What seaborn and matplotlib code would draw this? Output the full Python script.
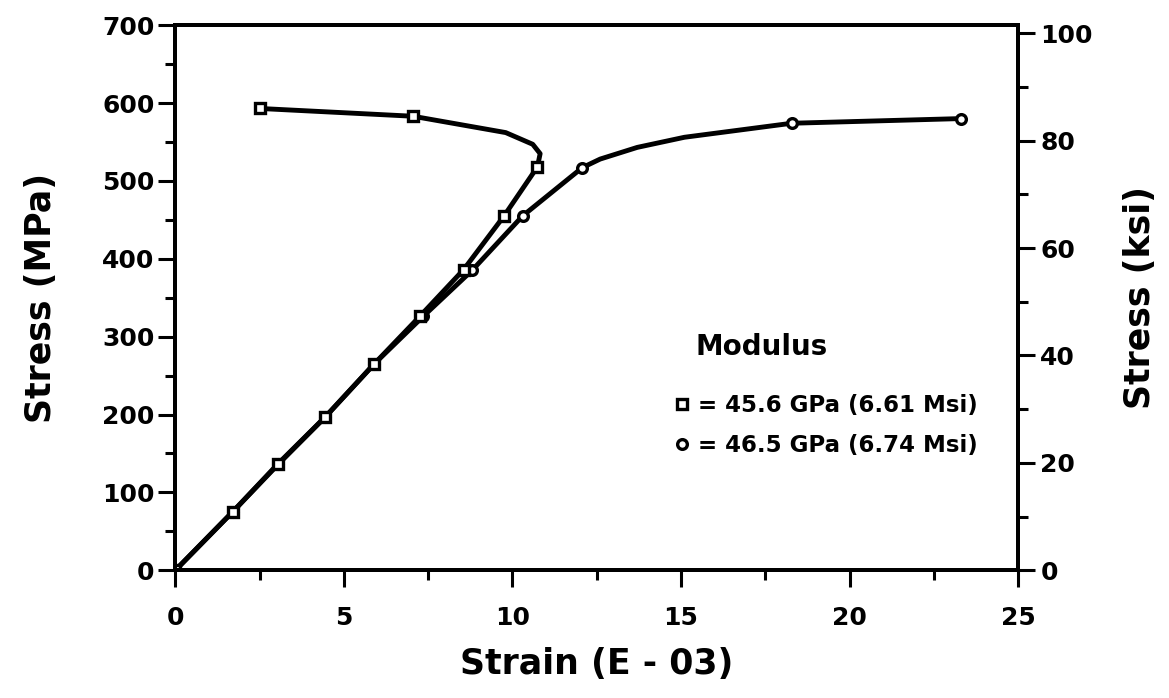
import matplotlib
matplotlib.use("Agg")
import matplotlib.pyplot as plt
import matplotlib.ticker as mticker
from matplotlib.lines import Line2D
import pandas as pd
import seaborn as sns

# strain (E-03) vs stress (MPa)
sq_strain = [0.0, 1.7, 3.05, 4.45, 5.9, 7.25, 8.55, 9.75, 10.74, 10.82, 10.6, 9.8, 7.05, 2.5]
sq_stress = [0, 75, 136, 197, 265, 326, 386, 455, 518, 535, 547, 562, 583, 593]
sq_marked = [True, True, True, True, True, True, True, True, True, False, False, False, True, True]

ci_strain = [0.0, 1.7, 3.05, 4.45, 5.9, 7.35, 8.8, 10.3, 12.07, 12.6, 13.7, 15.1, 18.28, 23.3]
ci_stress = [0, 75, 137, 197, 265, 326, 385, 455, 517, 528, 543, 556, 574, 580]
ci_marked = [True, True, True, True, True, True, True, True, True, False, False, False, True, True]

x_ticks = [0, 5, 10, 15, 20, 25]
y_ticks = [0, 100, 200, 300, 400, 500, 600, 700]
ksi_ticks = [0, 20, 40, 60, 80, 100]
mpa_per_ksi = 6.895

legend_title = "Modulus"
legend_labels = ["= 45.6 GPa (6.61 Msi)", "= 46.5 GPa (6.74 Msi)"]

sq = pd.DataFrame({"strain": sq_strain, "stress": sq_stress, "marked": sq_marked})
ci = pd.DataFrame({"strain": ci_strain, "stress": ci_stress, "marked": ci_marked})

sns.set_style("white")
plt.rcParams["font.family"] = ["DejaVu Sans"]
plt.rcParams["font.weight"] = "bold"
for k in ["text.color", "axes.labelcolor", "xtick.color", "ytick.color", "axes.edgecolor"]:
    plt.rcParams[k] = "black"

fig = plt.figure(figsize=(11.69, 6.98), dpi=100)
ax = fig.add_axes([0.150, 0.183, 0.721, 0.781])

sns.lineplot(data=ci, x="strain", y="stress", sort=False, estimator=None,
             color="black", linewidth=3.5, ax=ax)
sns.lineplot(data=sq, x="strain", y="stress", sort=False, estimator=None,
             color="black", linewidth=3.5, ax=ax)
ax.plot(ci.loc[ci.marked, "strain"], ci.loc[ci.marked, "stress"], "o", ls="none",
        ms=7, mfc="white", mec="black", mew=2.4)
ax.plot(sq.loc[sq.marked, "strain"], sq.loc[sq.marked, "stress"], "s", ls="none",
        ms=7, mfc="white", mec="black", mew=2.4)

ax.set_xlim(0, 25)
ax.set_ylim(0, 700)
ax.set_xticks(x_ticks)
ax.set_yticks(y_ticks)
ax.xaxis.set_minor_locator(mticker.MultipleLocator(2.5))
ax.yaxis.set_minor_locator(mticker.MultipleLocator(50))
ax.tick_params(which="major", direction="out", length=12, width=2.2, labelsize=18)
ax.tick_params(which="minor", direction="out", length=7, width=2.2)
ax.tick_params(axis="x", which="major", pad=14)
ax.tick_params(axis="y", which="major", pad=3)
ax.tick_params(axis="both", which="both", bottom=True, left=True)
for lab in ax.get_xticklabels() + ax.get_yticklabels():
    lab.set_fontweight("bold")
for sp in ax.spines.values():
    sp.set_linewidth(2.8)
ax.set_xlabel("Strain (E - 03)", fontsize=25, fontweight="bold", labelpad=12)
ax.set_ylabel("Stress (MPa)", fontsize=25, fontweight="bold", labelpad=32)

ax2 = ax.twinx()
ax2.set_ylim(0, 700 / mpa_per_ksi)
ax2.set_yticks(ksi_ticks)
ax2.yaxis.set_minor_locator(mticker.MultipleLocator(10))
ax2.tick_params(which="major", direction="out", length=12, width=2.2, labelsize=18, pad=4, right=True)
ax2.tick_params(which="minor", direction="out", length=7, width=2.2, right=True)
for lab in ax2.get_yticklabels():
    lab.set_fontweight("bold")
for sp in ax2.spines.values():
    sp.set_linewidth(2.8)
ax2.set_ylabel("Stress (ksi)", fontsize=25, fontweight="bold", labelpad=22)

ax.text(0.696, 0.41, legend_title, transform=ax.transAxes, ha="center", va="center",
        fontsize=20, fontweight="bold")
handles = [
    Line2D([], [], marker="s", ls="none", ms=7, mfc="white", mec="black", mew=2.4),
    Line2D([], [], marker="o", ls="none", ms=7, mfc="white", mec="black", mew=2.4),
]
leg = ax.legend(handles, legend_labels, loc="center left",
                bbox_to_anchor=(0.59, 0.266), frameon=False, handlelength=0.8,
                handletextpad=0.3, labelspacing=0.75, borderpad=0, borderaxespad=0,
                prop={"size": 16.5, "weight": "bold"})

fig.savefig("out.png", dpi=100)
